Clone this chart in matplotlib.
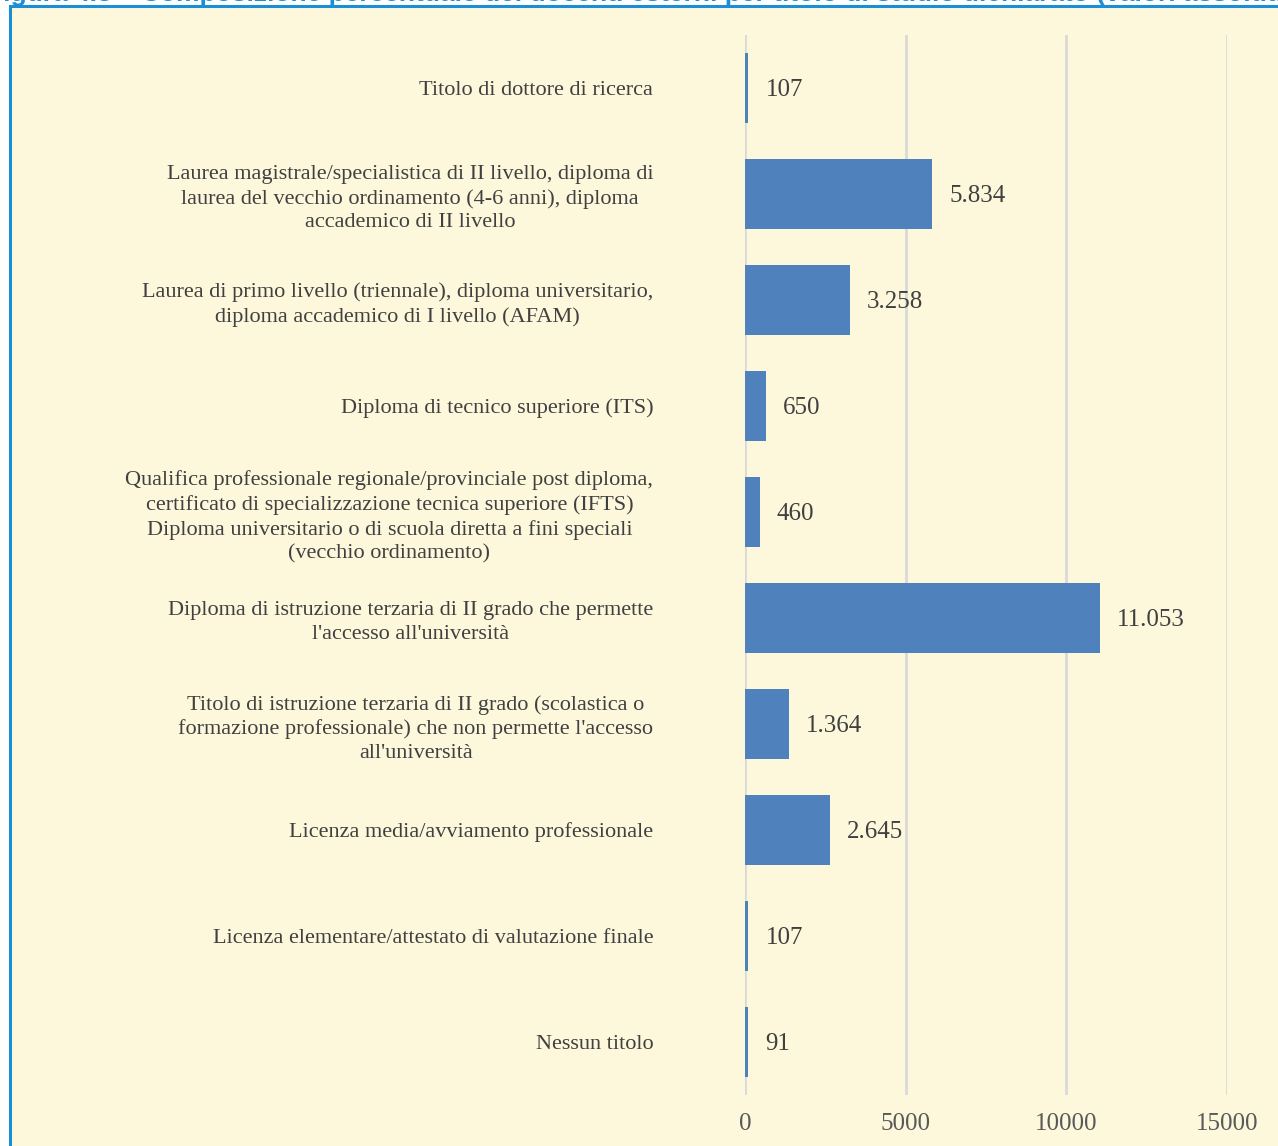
import matplotlib
matplotlib.use("Agg")
import matplotlib.pyplot as plt
from matplotlib.patches import Rectangle

categorie = [
    "Titolo di dottore di ricerca",
    "Laurea magistrale/specialistica di II livello, diploma di\nlaurea del vecchio ordinamento (4-6 anni), diploma\naccademico di II livello",
    "Laurea di primo livello (triennale), diploma universitario,\ndiploma accademico di I livello (AFAM)",
    "Diploma di tecnico superiore (ITS)",
    "Qualifica professionale regionale/provinciale post diploma,\ncertificato di specializzazione tecnica superiore (IFTS)\nDiploma universitario o di scuola diretta a fini speciali\n(vecchio ordinamento)",
    "Diploma di istruzione terzaria di II grado che permette\nl'accesso all'università",
    "Titolo di istruzione terzaria di II grado (scolastica o\nformazione professionale) che non permette l'accesso\nall'università",
    "Licenza media/avviamento professionale",
    "Licenza elementare/attestato di valutazione finale",
    "Nessun titolo",
]
valori = [107, 5834, 3258, 650, 460, 11053, 1364, 2645, 107, 91]
etichette = ["107", "5.834", "3.258", "650", "460", "11.053", "1.364", "2.645", "107", "91"]
tick_x = [0, 5000, 10000, 15000]

BG = "#FDF8DC"
BAR = "#4F81BD"
TXT = "#404040"
SERIF = ["Liberation Serif", "DejaVu Serif"]

fig = plt.figure(figsize=(12.78, 11.46), dpi=100)
fig.patch.set_facecolor("white")

# cornice crema con bordo blu
W, H = 1278, 1146
fig.patches.append(Rectangle((10 / W, -0.01), 1.1, (H - 6) / H + 0.01,
                             transform=fig.transFigure, facecolor=BG,
                             edgecolor="#1B8FD6", linewidth=2.2, zorder=-5))

# titolo (tagliato in alto come nell'originale)
fig.text(-0.01, 1 - 1 / H, "Figura 4.8 – Composizione percentuale dei docenti esterni per titolo di studio dichiarato (valori assoluti)",
         color="#1B8FD6", fontsize=19, fontweight="bold", ha="left", va="baseline",
         family=["Liberation Sans", "DejaVu Sans"], zorder=-6)

ax = fig.add_axes([745 / W, 1 - 1095 / H, (1227 - 745) / W, (1095 - 35) / H])
ax.set_facecolor("none")

y = list(range(len(categorie)))
ax.barh(y, valori, height=0.66, color=BAR, zorder=3)
for yi, v, lab in zip(y, valori, etichette):
    ax.text(v + 530, yi + 0.02, lab, va="center", ha="left", fontsize=18,
            color=TXT, family=SERIF)

ax.set_xlim(0, 15000)
ax.set_ylim(len(categorie) - 0.5, -0.5)
ax.set_yticks(y)
ax.set_yticklabels(categorie, fontsize=16, color=TXT, family=SERIF,
                   multialignment="center", linespacing=1.32)
ax.set_xticks(tick_x)
ax.set_xticklabels([str(t) for t in tick_x], fontsize=18, color="#595959",
                   family=SERIF)
ax.tick_params(axis="y", length=0, pad=66)
ax.tick_params(axis="x", length=0, pad=13)
ax.grid(axis="x", color="#D9D9D9", linewidth=2, zorder=0)
for s in ax.spines.values():
    s.set_visible(False)

fig.savefig("out.png", dpi=100, facecolor=fig.get_facecolor())
